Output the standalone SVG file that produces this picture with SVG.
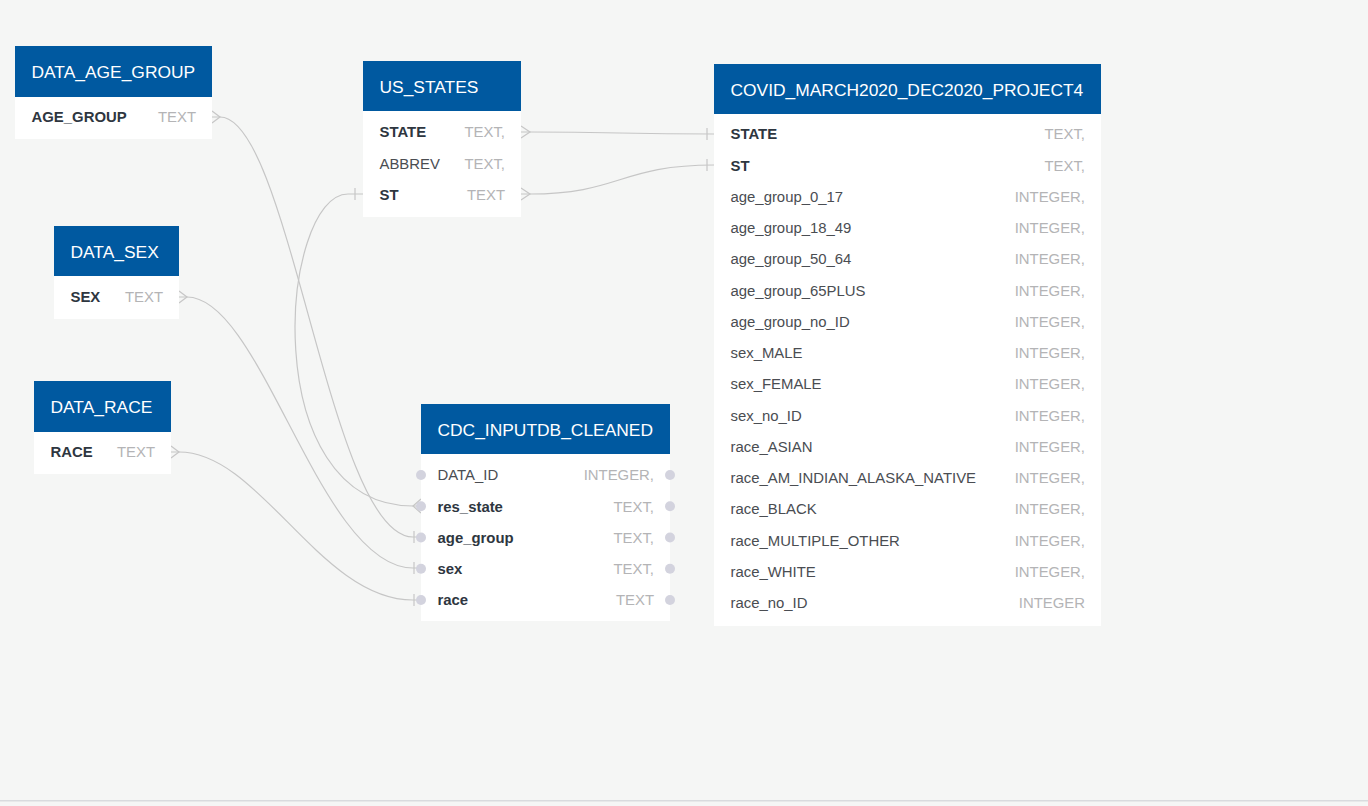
<svg xmlns="http://www.w3.org/2000/svg" width="1368" height="806" viewBox="0 0 1368 806">
<style>
.bg{fill:#f5f6f5}
.hd{fill:#0059a0}
.bd{fill:#ffffff}
.ht{font-family:"Liberation Sans",Arial,sans-serif;font-size:17.4px;fill:#ffffff}
.fk{font-family:"Liberation Sans",Arial,sans-serif;font-size:14.9px;font-weight:bold;fill:#2e3640}
.fn{font-family:"Liberation Sans",Arial,sans-serif;font-size:14.9px;fill:#4a4d52}
.ty{font-family:"Liberation Sans",Arial,sans-serif;font-size:14.9px;fill:#b4b4b6;text-anchor:end}
.ln{fill:none;stroke:#c6c6c6;stroke-width:1.2}
.dot{fill:#d3d3de}
</style>
<rect class="bg" x="0" y="0" width="1368" height="806"/>
<rect x="0" y="800" width="1368" height="1.5" fill="#d9dbde"/>

<g id="connectors">
  <!-- US_STATES.STATE -> COVID.STATE -->
  <path class="ln" d="M521 132 L530 132 C620 132 620 134 714 134"/>
  <path class="ln" d="M521 126 L530 132 L521 138"/>
  <path class="ln" d="M707 128 L707 140"/>
  <!-- US_STATES.ST -> COVID.ST -->
  <path class="ln" d="M521 194 L530 194 C620 194 620 165 714 165"/>
  <path class="ln" d="M521 188 L530 194 L521 200"/>
  <path class="ln" d="M707 159 L707 171"/>
  <!-- US_STATES.ST -> CDC.res_state -->
  <path class="ln" d="M363 194 L348 194 C280 194 255 506 413 506 L421 506"/>
  <path class="ln" d="M355 188 L355 200"/>
  <path class="ln" d="M421 499 L413 506 L421 513"/>
  <!-- DATA_AGE_GROUP -> CDC.age_group -->
  <path class="ln" d="M212 117 L220 117 C290 117 330 537 413 537 L421 537"/>
  <path class="ln" d="M212 111 L220 117 L212 123"/>
  <path class="ln" d="M414 531 L414 543"/>
  <!-- DATA_SEX -> CDC.sex -->
  <path class="ln" d="M179 297 L187 297 C262 297 320 568 413 568 L421 568"/>
  <path class="ln" d="M179 291 L187 297 L179 303"/>
  <path class="ln" d="M414 562 L414 574"/>
  <!-- DATA_RACE -> CDC.race -->
  <path class="ln" d="M171 452 L179 452 C260 452 320 600 413 600 L421 600"/>
  <path class="ln" d="M171 446 L179 452 L171 458"/>
  <path class="ln" d="M414 594 L414 606"/>
</g>

<g id="DATA_AGE_GROUP">
  <rect class="bd" x="15" y="97" width="197" height="42"/>
  <rect class="hd" x="15" y="46" width="197" height="51"/>
  <text class="ht" x="31.5" y="78">DATA_AGE_GROUP</text>
  <text class="fk" x="31.5" y="122.3">AGE_GROUP</text>
  <text class="ty" x="196" y="122.3">TEXT</text>
</g>

<g id="DATA_SEX">
  <rect class="bd" x="54" y="276" width="125" height="43"/>
  <rect class="hd" x="54" y="226" width="125" height="50"/>
  <text class="ht" x="70.5" y="257.5">DATA_SEX</text>
  <text class="fk" x="70.5" y="302.3">SEX</text>
  <text class="ty" x="163" y="302.3">TEXT</text>
</g>

<g id="DATA_RACE">
  <rect class="bd" x="34" y="432" width="137" height="42"/>
  <rect class="hd" x="34" y="381" width="137" height="51"/>
  <text class="ht" x="50.5" y="412.5">DATA_RACE</text>
  <text class="fk" x="50.5" y="457.3">RACE</text>
  <text class="ty" x="155" y="457.3">TEXT</text>
</g>

<g id="US_STATES">
  <rect class="bd" x="363" y="111" width="158" height="106"/>
  <rect class="hd" x="363" y="61" width="158" height="50"/>
  <text class="ht" x="379.5" y="92.5">US_STATES</text>
  <text class="fk" x="379.5" y="137.3">STATE</text>
  <text class="ty" x="505" y="137.3">TEXT,</text>
  <text class="fn" x="379.5" y="168.5">ABBREV</text>
  <text class="ty" x="505" y="168.5">TEXT,</text>
  <text class="fk" x="379.5" y="199.8">ST</text>
  <text class="ty" x="505" y="199.8">TEXT</text>
</g>

<g id="CDC_INPUTDB_CLEANED">
  <rect class="bd" x="421" y="454" width="249" height="167"/>
  <rect class="hd" x="421" y="404" width="249" height="50"/>
  <text class="ht" x="437.5" y="435.5">CDC_INPUTDB_CLEANED</text>
  <text class="fn" x="437.5" y="480.3">DATA_ID</text>
  <text class="ty" x="654" y="480.3">INTEGER,</text>
  <text class="fk" x="437.5" y="511.5">res_state</text>
  <text class="ty" x="654" y="511.5">TEXT,</text>
  <text class="fk" x="437.5" y="542.8">age_group</text>
  <text class="ty" x="654" y="542.8">TEXT,</text>
  <text class="fk" x="437.5" y="574">sex</text>
  <text class="ty" x="654" y="574">TEXT,</text>
  <text class="fk" x="437.5" y="605.3">race</text>
  <text class="ty" x="654" y="605.3">TEXT</text>
  <circle class="dot" cx="421" cy="475" r="5"/>
  <circle class="dot" cx="421" cy="506.25" r="5"/>
  <circle class="dot" cx="421" cy="537.5" r="5"/>
  <circle class="dot" cx="421" cy="568.75" r="5"/>
  <circle class="dot" cx="421" cy="600" r="5"/>
  <circle class="dot" cx="670" cy="475" r="5"/>
  <circle class="dot" cx="670" cy="506.25" r="5"/>
  <circle class="dot" cx="670" cy="537.5" r="5"/>
  <circle class="dot" cx="670" cy="568.75" r="5"/>
  <circle class="dot" cx="670" cy="600" r="5"/>
</g>

<g id="COVID_MARCH2020_DEC2020_PROJECT4">
  <rect class="bd" x="714" y="114" width="387" height="512"/>
  <rect class="hd" x="714" y="64" width="387" height="50"/>
  <text class="ht" x="730.5" y="95.5">COVID_MARCH2020_DEC2020_PROJECT4</text>
  <text class="fk" x="730.5" y="139.3">STATE</text><text class="ty" x="1085" y="139.3">TEXT,</text>
  <text class="fk" x="730.5" y="170.5">ST</text><text class="ty" x="1085" y="170.5">TEXT,</text>
  <text class="fn" x="730.5" y="201.8">age_group_0_17</text><text class="ty" x="1085" y="201.8">INTEGER,</text>
  <text class="fn" x="730.5" y="233">age_group_18_49</text><text class="ty" x="1085" y="233">INTEGER,</text>
  <text class="fn" x="730.5" y="264.3">age_group_50_64</text><text class="ty" x="1085" y="264.3">INTEGER,</text>
  <text class="fn" x="730.5" y="295.5">age_group_65PLUS</text><text class="ty" x="1085" y="295.5">INTEGER,</text>
  <text class="fn" x="730.5" y="326.8">age_group_no_ID</text><text class="ty" x="1085" y="326.8">INTEGER,</text>
  <text class="fn" x="730.5" y="358">sex_MALE</text><text class="ty" x="1085" y="358">INTEGER,</text>
  <text class="fn" x="730.5" y="389.3">sex_FEMALE</text><text class="ty" x="1085" y="389.3">INTEGER,</text>
  <text class="fn" x="730.5" y="420.5">sex_no_ID</text><text class="ty" x="1085" y="420.5">INTEGER,</text>
  <text class="fn" x="730.5" y="451.8">race_ASIAN</text><text class="ty" x="1085" y="451.8">INTEGER,</text>
  <text class="fn" x="730.5" y="483">race_AM_INDIAN_ALASKA_NATIVE</text><text class="ty" x="1085" y="483">INTEGER,</text>
  <text class="fn" x="730.5" y="514.3">race_BLACK</text><text class="ty" x="1085" y="514.3">INTEGER,</text>
  <text class="fn" x="730.5" y="545.5">race_MULTIPLE_OTHER</text><text class="ty" x="1085" y="545.5">INTEGER,</text>
  <text class="fn" x="730.5" y="576.8">race_WHITE</text><text class="ty" x="1085" y="576.8">INTEGER,</text>
  <text class="fn" x="730.5" y="608">race_no_ID</text><text class="ty" x="1085" y="608">INTEGER</text>
</g>
</svg>
